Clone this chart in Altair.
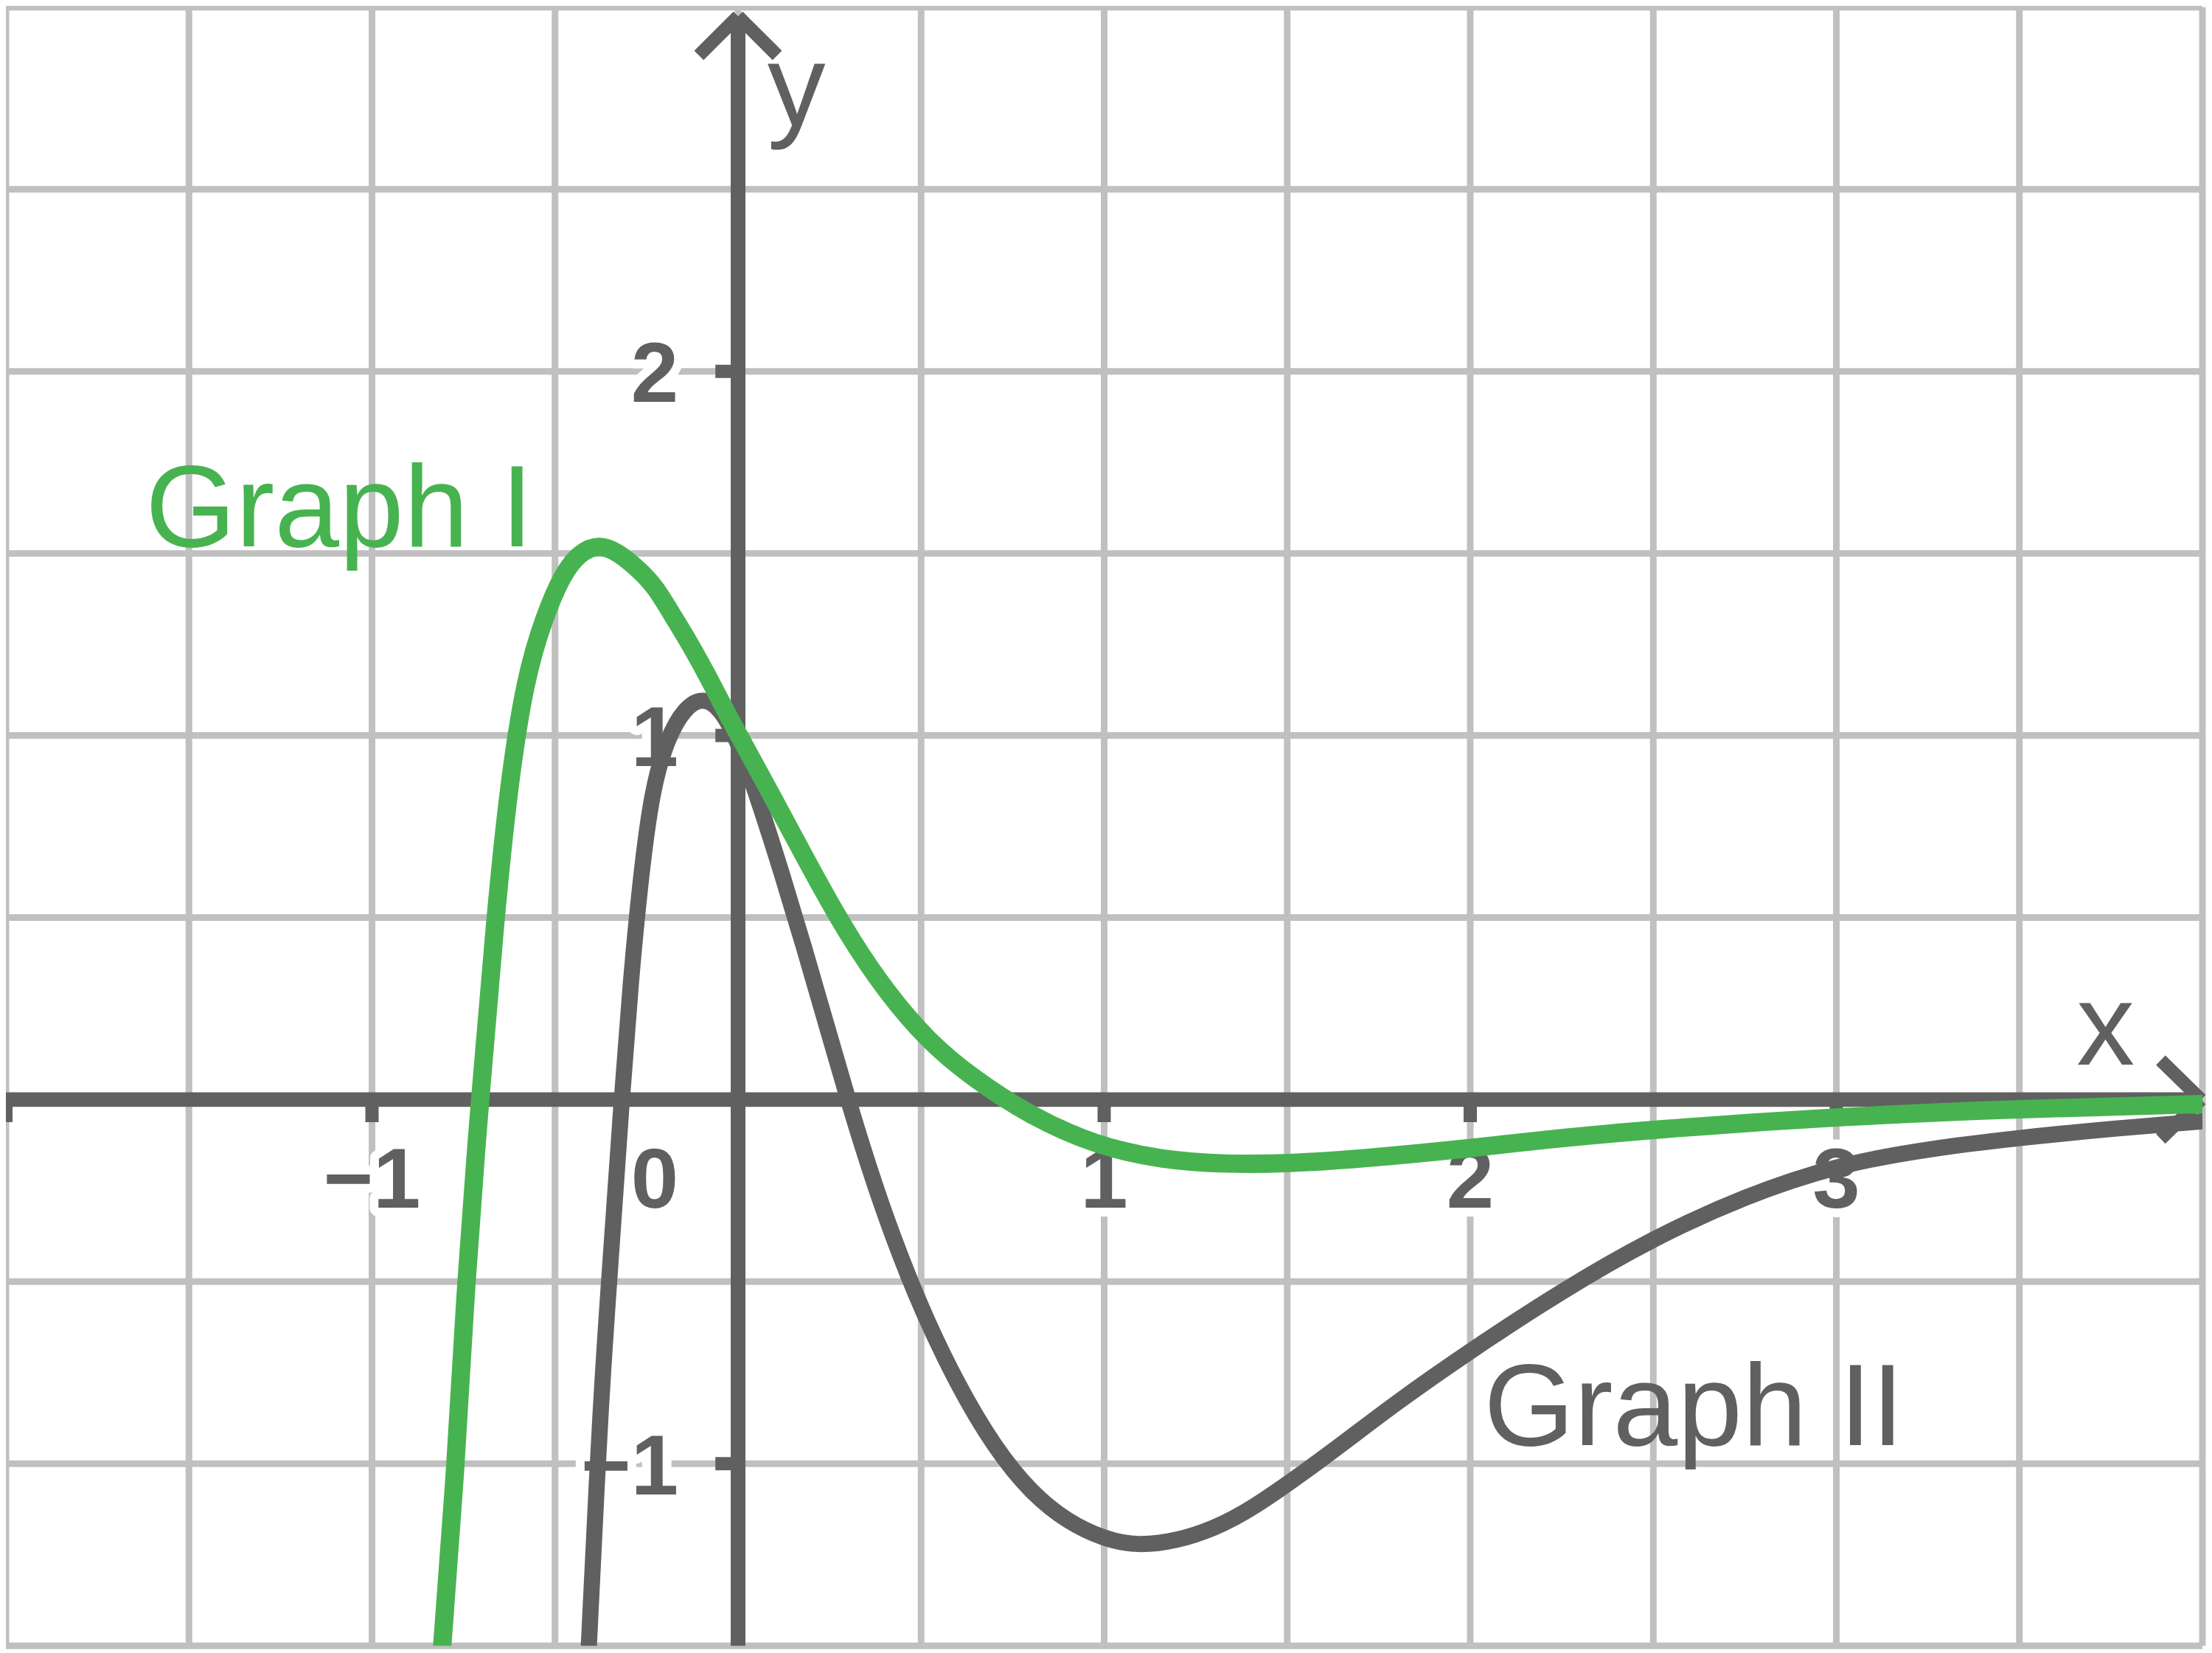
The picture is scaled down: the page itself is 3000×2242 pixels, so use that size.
import altair as alt
import pandas as pd

# ---------------- data ----------------
GRID_X = [-2, -1.5, -1, -0.5, 0, 0.5, 1, 1.5, 2, 2.5, 3, 3.5, 4]
GRID_Y = [-1.5, -1, -0.5, 0, 0.5, 1, 1.5, 2, 2.5, 3]

X_TICKS = [-2, -1, 1, 2, 3]
Y_TICKS = [-1, 1, 2]

X_LABEL_POS = [-1, 1, 2, 3]
X_LABEL_TXT = ["\u22121", "1", "2", "3"]
Y_LABEL_POS = [2, 1, -1]
Y_LABEL_TXT = ["2", "1", "\u22121"]
ORIGIN_TXT = ["0"]

# Graph I (green)
G1_X = [-0.812, -0.770, -0.744, -0.705, -0.663, -0.628, -0.582, -0.528, -0.478,
        -0.432, -0.380, -0.330, -0.270, -0.227, -0.181, -0.133, -0.080, -0.033,
        0.021, 0.080, 0.176, 0.291, 0.407, 0.522, 0.637, 0.798, 0.977, 1.157,
        1.337, 1.500, 1.700, 2.000, 2.200, 2.500, 3.000, 3.500, 4.020]
G1_Y = [-1.55, -1.0, -0.504, 0.0, 0.5, 0.85, 1.157, 1.33, 1.446,
        1.503, 1.525, 1.505, 1.455, 1.410, 1.333, 1.255, 1.158, 1.065,
        0.966, 0.858, 0.677, 0.465, 0.292, 0.158, 0.062, -0.045, -0.126, -0.166,
        -0.178, -0.176, -0.163, -0.134, -0.110, -0.082, -0.047, -0.025, -0.012]

# Graph II (gray)
G2_X = [-0.410, -0.375, -0.346, -0.318, -0.293, -0.265, -0.235, -0.195, -0.145,
        -0.095, -0.048, 0.0, 0.06, 0.12, 0.18, 0.24, 0.30, 0.36, 0.42, 0.50,
        0.60, 0.70, 0.80, 0.90, 1.00, 1.09, 1.20, 1.30, 1.40, 1.60, 1.80,
        2.00, 2.25, 2.50, 2.75, 3.00, 3.25, 3.50, 3.75, 4.02]
G2_Y = [-1.55, -0.816, -0.414, 0.0, 0.33, 0.62, 0.85, 0.99, 1.078,
        1.105, 1.075, 0.985, 0.81, 0.62, 0.42, 0.21, 0.0, -0.195, -0.37, -0.575,
        -0.785, -0.955, -1.08, -1.16, -1.207, -1.226, -1.212, -1.178, -1.128, -0.985, -0.83,
        -0.69, -0.525, -0.38, -0.265, -0.18, -0.135, -0.105, -0.08, -0.058]

# ---------------- style ----------------
GRAY = "#606060"
GRID = "#c0c0c0"
GREEN = "#47b350"
FONT = "Liberation Sans"

xs = alt.Scale(domain=[-2, 4], nice=False, zero=False)
ys = alt.Scale(domain=[-1.5, 3], nice=False, zero=False)


def X(f="x"):
    return alt.X(f"{f}:Q", scale=xs, axis=None)


def Y(f="y"):
    return alt.Y(f"{f}:Q", scale=ys, axis=None)


vgrid = alt.Chart(pd.DataFrame({"x": GRID_X})).mark_rule(
    color=GRID, strokeWidth=9).encode(x=X())
hgrid = alt.Chart(pd.DataFrame({"y": GRID_Y})).mark_rule(
    color=GRID, strokeWidth=9).encode(y=Y())

# tick labels (with white halo)
xl = pd.DataFrame({"x": X_LABEL_POS, "y": [-0.296] * len(X_LABEL_POS), "t": X_LABEL_TXT})
ol = pd.DataFrame({"x": [-0.163], "y": [-0.296], "t": ORIGIN_TXT})
yl = pd.DataFrame({"x": [-0.163] * len(Y_LABEL_POS),
                   "y": [v - 0.084 for v in Y_LABEL_POS], "t": Y_LABEL_TXT})


def labels(df, align):
    base = alt.Chart(df).encode(x=X(), y=Y(), text="t:N")
    kw = dict(align=align, baseline="alphabetic", font=FONT, fontSize=116,
              fontWeight="bold")
    halo = base.mark_text(color="white", stroke="white", strokeWidth=24,
                          strokeJoin="round", **kw)
    fg = base.mark_text(color=GRAY, **kw)
    return [halo, fg]


label_layers = labels(xl, "center") + labels(ol, "right") + labels(yl, "right")

# axes
yaxis = alt.Chart(pd.DataFrame({"x": [0], "y": [-1.5], "y2": [2.975]})).mark_rule(
    color=GRAY, strokeWidth=20, strokeCap="butt").encode(x=X(), y=Y(), y2="y2:Q")
xaxis = alt.Chart(pd.DataFrame({"y": [0], "x": [-2.0], "x2": [3.99]})).mark_rule(
    color=GRAY, strokeWidth=20, strokeCap="butt").encode(y=Y(), x=X(), x2="x2:Q")

xticks = alt.Chart(pd.DataFrame({"x": X_TICKS, "y": [0] * len(X_TICKS),
                                 "y2": [-0.062] * len(X_TICKS)})).mark_rule(
    color=GRAY, strokeWidth=18, strokeCap="butt").encode(x=X(), y=Y(), y2="y2:Q")
yticks = alt.Chart(pd.DataFrame({"y": Y_TICKS, "x": [0] * len(Y_TICKS),
                                 "x2": [-0.062] * len(Y_TICKS)})).mark_rule(
    color=GRAY, strokeWidth=18, strokeCap="butt").encode(y=Y(), x=X(), x2="x2:Q")

arrows = alt.Chart(pd.DataFrame({
    "x": [0, 0, 3.996, 3.996],
    "y": [2.975, 2.975, 0, 0],
    "x2": [-0.107, 0.107, 3.886, 3.886],
    "y2": [2.868, 2.868, 0.108, -0.108],
})).mark_rule(color=GRAY, strokeWidth=18, strokeCap="butt").encode(
    x=X(), y=Y(), x2="x2:Q", y2="y2:Q")

axis_names = alt.Chart(pd.DataFrame({"x": [0.08, 3.656], "y": [2.675, 0.096],
                                     "t": ["y", "x"]})).mark_text(
    align="left", baseline="alphabetic", font=FONT, fontSize=158, color=GRAY
).encode(x=X(), y=Y(), text="t:N")

g2 = alt.Chart(pd.DataFrame({"x": G2_X, "y": G2_Y})).mark_line(
    color=GRAY, strokeWidth=22, interpolate="basis", clip=True).encode(x=X(), y=Y())
g1 = alt.Chart(pd.DataFrame({"x": G1_X, "y": G1_Y})).mark_line(
    color=GREEN, strokeWidth=25, interpolate="basis", clip=True).encode(x=X(), y=Y())

name1 = alt.Chart(pd.DataFrame({"x": [-1.619], "y": [1.52], "t": ["Graph I"]})).mark_text(
    align="left", baseline="alphabetic", font=FONT, fontSize=158, color=GREEN
).encode(x=X(), y=Y(), text="t:N")
name2 = alt.Chart(pd.DataFrame({"x": [2.037], "y": [-0.949], "t": ["Graph II"]})).mark_text(
    align="left", baseline="alphabetic", font=FONT, fontSize=158, color=GRAY
).encode(x=X(), y=Y(), text="t:N")

chart = alt.layer(
    vgrid, hgrid, *label_layers, yaxis, xaxis, xticks, yticks, arrows,
    axis_names, g2, g1, name1, name2
).properties(
    width=2984, height=2226,
    padding={"left": 0, "top": 0, "right": 5, "bottom": 5},
    autosize=alt.AutoSizeParams(type="none"),
    background="white",
).configure_view(stroke=None)

chart.save("out.html", embed_options={"renderer": "svg", "actions": False})
